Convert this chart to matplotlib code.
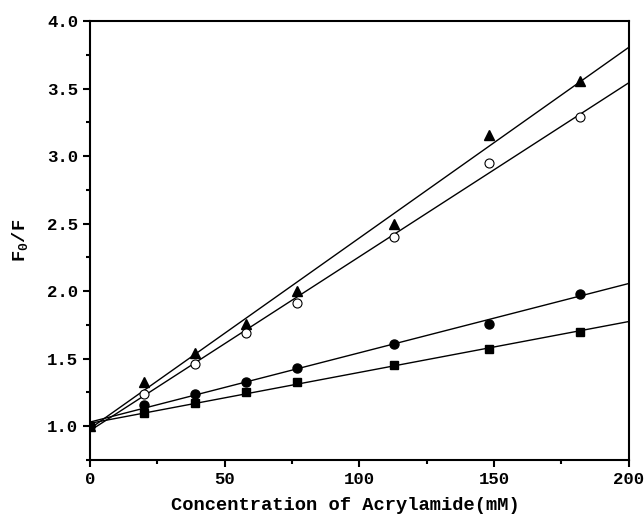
import numpy as np
import matplotlib
matplotlib.use("Agg")
import matplotlib.pyplot as plt
from matplotlib.ticker import MultipleLocator

# Acrylamide concentration (mM)
conc = [0, 20, 39, 58, 77, 113, 148, 182]

# F0/F for each sample
f_triangle = [1.0, 1.33, 1.54, 1.76, 2.00, 2.50, 3.16, 3.56]
f_open = [1.0, 1.24, 1.46, 1.69, 1.91, 2.40, 2.95, 3.29]
f_circle = [1.0, 1.16, 1.24, 1.33, 1.43, 1.61, 1.76, 1.98]
f_square = [1.0, 1.10, 1.17, 1.25, 1.33, 1.45, 1.57, 1.70]

plt.rcParams['font.family'] = ['Liberation Mono', 'DejaVu Sans Mono']
plt.rcParams['font.weight'] = 'bold'
plt.rcParams['mathtext.fontset'] = 'custom'
plt.rcParams['mathtext.bf'] = 'Liberation Mono:bold'
plt.rcParams['mathtext.rm'] = 'Liberation Mono:bold'

fig = plt.figure(figsize=(6.44, 5.15), dpi=100)
ax = fig.add_axes([0.140, 0.107, 0.836, 0.852])

xfit = np.array([0, 200])
series = [
    (f_triangle, dict(marker='^', color='black', markersize=7)),
    (f_open, dict(marker='o', markerfacecolor='white', markeredgecolor='black', markersize=6.5, markeredgewidth=0.8)),
    (f_circle, dict(marker='o', color='black', markersize=6.5)),
    (f_square, dict(marker='s', color='black', markersize=5.5)),
]
for ys, style in series:
    # linear Stern-Volmer fit
    k, b = np.polyfit(conc, ys, 1)
    ax.plot(xfit, k * xfit + b, color='black', linewidth=1.0, zorder=2)
    ax.plot(conc, ys, linestyle='none', zorder=3, **style)

ax.set_xlim(0, 200)
ax.set_ylim(0.75, 4.0)
ax.xaxis.set_major_locator(MultipleLocator(50))
ax.xaxis.set_minor_locator(MultipleLocator(25))
ax.yaxis.set_minor_locator(MultipleLocator(0.25))
ax.set_yticks([1.0, 1.5, 2.0, 2.5, 3.0, 3.5, 4.0])
ax.set_yticklabels(['1.0', '1.5', '2.0', '2.5', '3.0', '3.5', '4.0'])

for s in ax.spines.values():
    s.set_linewidth(1.5)
ax.tick_params(which='major', direction='out', length=5, width=1.5, labelsize=12.5)
ax.tick_params(which='minor', direction='out', length=3, width=1.5)

ax.set_xlabel('Concentration of Acrylamide(mM)', fontsize=13.5, fontweight='bold')
ax.xaxis.set_label_coords(0.474, -0.085)
ax.set_ylabel(r'F$_\mathbf{0}$/F', fontsize=13.5, fontweight='bold', labelpad=12)

fig.savefig('out.png', dpi=100)
